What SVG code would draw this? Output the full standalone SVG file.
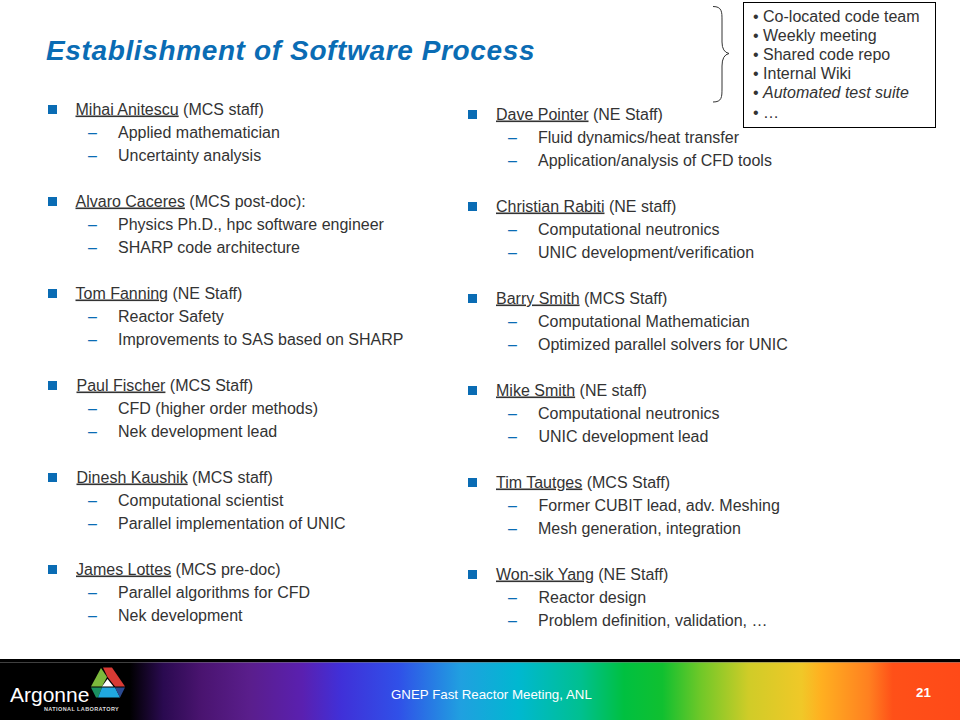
<svg xmlns="http://www.w3.org/2000/svg" width="960" height="720" viewBox="0 0 960 720">
<style>
text{font-family:"Liberation Sans",Arial,sans-serif;fill:#333}
.h,.s,.t{font-size:16px}
.d{font-size:16px;fill:#0a6cb4}
.u{text-decoration:underline}
.b{fill:#0a6cb4}
</style>
<defs>
<linearGradient id="g" gradientUnits="userSpaceOnUse" x1="0" y1="0" x2="960" y2="0">
<stop offset="0" stop-color="#000"/>
<stop offset="0.135" stop-color="#000"/>
<stop offset="0.17" stop-color="#2a0a50"/>
<stop offset="0.21" stop-color="#4a1470"/>
<stop offset="0.26" stop-color="#5a1e8c"/>
<stop offset="0.315" stop-color="#5a20b0"/>
<stop offset="0.355" stop-color="#4030d8"/>
<stop offset="0.415" stop-color="#3050e8"/>
<stop offset="0.48" stop-color="#20a0e0"/>
<stop offset="0.54" stop-color="#00b8d0"/>
<stop offset="0.605" stop-color="#00c090"/>
<stop offset="0.65" stop-color="#00c040"/>
<stop offset="0.69" stop-color="#10c030"/>
<stop offset="0.73" stop-color="#70c828"/>
<stop offset="0.78" stop-color="#d0cc28"/>
<stop offset="0.835" stop-color="#f0c828"/>
<stop offset="0.855" stop-color="#ffb020"/>
<stop offset="0.905" stop-color="#ff8020"/>
<stop offset="0.93" stop-color="#ff5018"/>
<stop offset="1" stop-color="#ff4a18"/>
</linearGradient>
</defs>
<rect width="960" height="720" fill="#fff"/>
<text x="46" y="60" style="font-size:28px;font-weight:bold;font-style:italic;fill:#0a6cb4;letter-spacing:.63px">Establishment of Software Process</text>
<g id="callout">
<rect x="743.500" y="2.500" width="192" height="125" fill="#fff" stroke="#000" stroke-width="1"/>
<text class="t" x="753" y="21.500">• Co-located code team</text>
<text class="t" x="753" y="40.500">• Weekly meeting</text>
<text class="t" x="753" y="59.500">• Shared code repo</text>
<text class="t" x="753" y="78.500">• Internal Wiki</text>
<text class="t" x="753" y="97.500">• <tspan font-style="italic">Automated test suite</tspan></text>
<text class="t" x="753" y="118">• …</text>
</g>
<g id="connectors">
<path d="M713 6.500C722 6.500 722 12 722 20V42Q722 52 729 53.500Q722 55 722 66V88C722 97 722 102 713 102" fill="none" stroke="#333" stroke-width="1"/>
</g>
<g id="left">
<g id="p1"><rect class="b" x="48" y="105" width="9" height="9"/><text class="h" x="75.500" y="114.500"><tspan class="u">Mihai Anitescu</tspan> (MCS staff)</text><text class="d" x="88" y="137.500">–</text><text class="s" x="118" y="137.500">Applied mathematician</text><text class="d" x="88" y="160.500">–</text><text class="s" x="118" y="160.500">Uncertainty analysis</text></g>
<g id="p2"><rect class="b" x="48" y="197" width="9" height="9"/><text class="h" x="75.500" y="206.500"><tspan class="u">Alvaro Caceres</tspan> (MCS post-doc):</text><text class="d" x="88" y="229.500">–</text><text class="s" x="118" y="229.500">Physics Ph.D., hpc software engineer</text><text class="d" x="88" y="252.500">–</text><text class="s" x="118" y="252.500">SHARP code architecture</text></g>
<g id="p3"><rect class="b" x="48" y="289" width="9" height="9"/><text class="h" x="75.500" y="298.500"><tspan class="u">Tom Fanning</tspan> (NE Staff)</text><text class="d" x="88" y="321.500">–</text><text class="s" x="118" y="321.500">Reactor Safety</text><text class="d" x="88" y="344.500">–</text><text class="s" x="118" y="344.500">Improvements to SAS based on SHARP</text></g>
<g id="p4"><rect class="b" x="48" y="381" width="9" height="9"/><text class="h" x="76.500" y="390.500"><tspan class="u">Paul Fischer</tspan> (MCS Staff)</text><text class="d" x="88" y="413.500">–</text><text class="s" x="118" y="413.500">CFD (higher order methods)</text><text class="d" x="88" y="436.500">–</text><text class="s" x="118" y="436.500">Nek development lead</text></g>
<g id="p5"><rect class="b" x="48" y="473" width="9" height="9"/><text class="h" x="76.500" y="482.500"><tspan class="u">Dinesh Kaushik</tspan> (MCS staff)</text><text class="d" x="88" y="505.500">–</text><text class="s" x="118" y="505.500">Computational scientist</text><text class="d" x="88" y="528.500">–</text><text class="s" x="118" y="528.500">Parallel implementation of UNIC</text></g>
<g id="p6"><rect class="b" x="48" y="565" width="9" height="9"/><text class="h" x="76" y="574.500"><tspan class="u">James Lottes</tspan> (MCS pre-doc)</text><text class="d" x="88" y="597.500">–</text><text class="s" x="118" y="597.500">Parallel algorithms for CFD</text><text class="d" x="88" y="620.500">–</text><text class="s" x="118" y="620.500">Nek development</text></g>
</g>
<g id="right">
<g id="p7"><rect class="b" x="468" y="110" width="9" height="9"/><text class="h" x="496" y="119.500"><tspan class="u">Dave Pointer</tspan> (NE Staff)</text><text class="d" x="508" y="142.500">–</text><text class="s" x="538" y="142.500">Fluid dynamics/heat transfer</text><text class="d" x="508" y="165.500">–</text><text class="s" x="538" y="165.500">Application/analysis of CFD tools</text></g>
<g id="p8"><rect class="b" x="468" y="202" width="9" height="9"/><text class="h" x="496" y="211.500"><tspan class="u">Christian Rabiti</tspan> (NE staff)</text><text class="d" x="508" y="234.500">–</text><text class="s" x="538" y="234.500">Computational neutronics</text><text class="d" x="508" y="257.500">–</text><text class="s" x="538" y="257.500">UNIC development/verification</text></g>
<g id="p9"><rect class="b" x="468" y="294" width="9" height="9"/><text class="h" x="496" y="303.500"><tspan class="u">Barry Smith</tspan> (MCS Staff)</text><text class="d" x="508" y="326.500">–</text><text class="s" x="538" y="326.500">Computational Mathematician</text><text class="d" x="508" y="349.500">–</text><text class="s" x="538" y="349.500">Optimized parallel solvers for UNIC</text></g>
<g id="p10"><rect class="b" x="468" y="386" width="9" height="9"/><text class="h" x="496" y="395.500"><tspan class="u">Mike Smith</tspan> (NE staff)</text><text class="d" x="508" y="418.500">–</text><text class="s" x="538" y="418.500">Computational neutronics</text><text class="d" x="508" y="441.500">–</text><text class="s" x="538.500" y="441.500">UNIC development lead</text></g>
<g id="p11"><rect class="b" x="468" y="478" width="9" height="9"/><text class="h" x="496" y="487.500"><tspan class="u">Tim Tautges</tspan> (MCS Staff)</text><text class="d" x="508" y="510.500">–</text><text class="s" x="538.500" y="510.500">Former CUBIT lead, adv. Meshing</text><text class="d" x="508" y="533.500">–</text><text class="s" x="538" y="533.500">Mesh generation, integration</text></g>
<g id="p12"><rect class="b" x="468" y="570" width="9" height="9"/><text class="h" x="496" y="579.500"><tspan class="u">Won-sik Yang</tspan> (NE Staff)</text><text class="d" x="508" y="602.500">–</text><text class="s" x="538.500" y="602.500">Reactor design</text><text class="d" x="508" y="625.500">–</text><text class="s" x="538" y="625.500">Problem definition, validation, …</text></g>
</g>
<g id="footer">
<rect y="659" width="960" height="3.500" fill="#000"/>
<rect y="662.500" width="960" height="57.500" fill="url(#g)"/>
<text x="391" y="699" style="font-size:13.3px;fill:#fff">GNEP Fast Reactor Meeting, ANL</text>
<text x="916" y="696.500" style="font-size:13.3px;font-weight:bold;fill:#fff">21</text>
<g id="logo">
<polygon points="103,667.500 112,667.500 125,686.500 115,686.500 107.500,677" fill="#d83a34"/>
<polygon points="101,668 91,686.500 102,686.500 107,677" fill="#7cb83c"/>
<polygon points="107.500,679 102,686.500 113.500,686.500" fill="#fff"/>
<polygon points="91,687.500 102,687.500 98,697.500 96,697.500" fill="#1a9060"/>
<polygon points="102,687.500 115,687.500 120,697.500 98,697.500" fill="#20a8e0"/>
<polygon points="115,687.500 125,687.500 120,697.500" fill="#2a4a90"/>
<text x="10" y="702" style="font-size:21px;fill:#fff">Argonne</text>
<text x="44" y="711" style="font-size:5.500px;font-weight:bold;fill:#ddd;letter-spacing:.4px">NATIONAL LABORATORY</text>
</g>
</g>
</svg>
